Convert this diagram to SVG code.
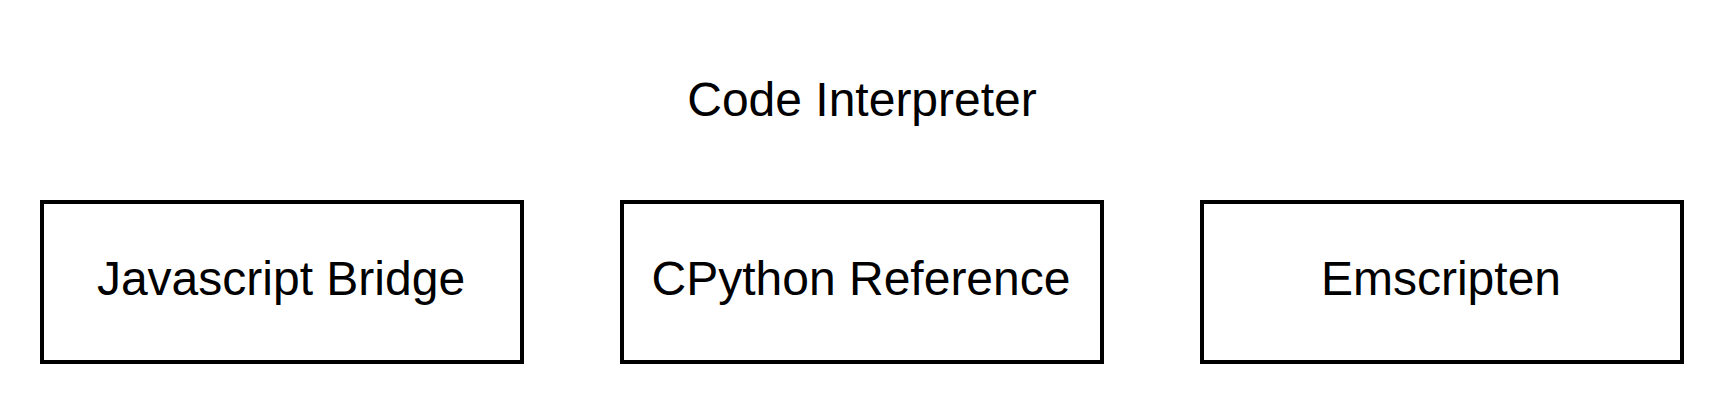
<svg xmlns="http://www.w3.org/2000/svg" width="1724" height="404" viewBox="0 0 1724 404">
<style>
.box{fill:#fff;stroke:#000;stroke-width:4}
.lbl{font-family:"Liberation Sans",Arial,sans-serif;font-size:48px;fill:#000;text-anchor:middle}
</style>
<rect width="1724" height="404" fill="#fff"/>
<g id="title"><text class="lbl" x="862" y="116">Code Interpreter</text></g>
<g id="connectors"></g>
<g id="node-js"><rect class="box" x="42" y="202" width="480" height="160"/><text class="lbl" x="281" y="295">Javascript Bridge</text></g>
<g id="node-cpython"><rect class="box" x="622" y="202" width="480" height="160"/><text class="lbl" x="861" y="295">CPython Reference</text></g>
<g id="node-emscripten"><rect class="box" x="1202" y="202" width="480" height="160"/><text class="lbl" x="1441" y="295">Emscripten</text></g>
</svg>
